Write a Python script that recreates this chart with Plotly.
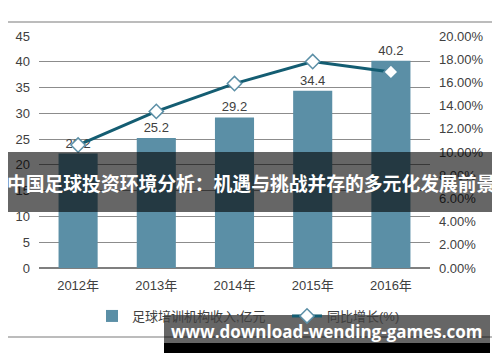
import plotly.graph_objects as go

years = ["2012年", "2013年", "2014年", "2015年", "2016年"]
income = [22.2, 25.2, 29.2, 34.4, 40.2]
growth = [0.106, 0.135, 0.159, 0.178, 0.169]
left_ticks = [0, 5, 10, 15, 20, 25, 30, 35, 40, 45]
right_ticks = [0, 0.02, 0.04, 0.06, 0.08, 0.10, 0.12, 0.14, 0.16, 0.18, 0.20]

OFF = 8  # page body margin
W, H = 500 - OFF, 362 - OFF
L, R, T, B = 39 - OFF, 430 - OFF, 36 - OFF, 268 - OFF


def px(x):
    return (x - OFF - L) / (R - L)


def py(y):
    return (B - (y - OFF)) / (B - T)


font_main = "Liberation Sans, Arial, Noto Sans CJK SC, sans-serif"
fig = go.Figure()
fig.add_trace(go.Bar(
    x=years, y=income, name="足球培训机构收入;亿元",
    marker=dict(color="#5b8fa6", line=dict(width=0)),
    width=0.5,
    text=[f"{v:.1f}" for v in income], textposition="outside",
    textfont=dict(size=13, color="#404040", family=font_main),
    cliponaxis=False,
))
fig.add_trace(go.Scatter(
    x=years, y=growth, name="同比增长(%)", yaxis="y2", mode="lines+markers",
    line=dict(color="#145d72", width=3),
    marker=dict(symbol="diamond", size=11, color="white",
                line=dict(color="#5b8fa6", width=1.5)),
    cliponaxis=False,
))

shapes = [
    dict(type="rect", xref="paper", yref="paper",
         x0=px(6), x1=px(493), y0=py(22), y1=py(337),
         line=dict(color="#a6a6a6", width=1.5), fillcolor="rgba(0,0,0,0)", layer="below"),
    dict(type="rect", xref="paper", yref="paper",
         x0=px(3), x1=px(497), y0=py(152), y1=py(212),
         line=dict(width=0), fillcolor="rgba(0,0,0,0.6)", layer="above"),
    dict(type="rect", xref="paper", yref="paper",
         x0=px(164), x1=px(490), y0=py(315), y1=py(343),
         line=dict(width=0), fillcolor="rgba(0,0,0,0.6)", layer="above"),
    dict(type="rect", xref="paper", yref="paper",
         x0=px(164), x1=px(490), y0=py(343), y1=py(353),
         line=dict(width=0), fillcolor="#000000", layer="above"),
]

annotations = [
    dict(text="中国足球投资环境分析：机遇与挑战并存的多元化发展前景",
         xref="paper", yref="paper", x=px(251), y=py(182),
         showarrow=False, xanchor="center", yanchor="middle",
         font=dict(size=18.8, color="white", family="Noto Sans CJK SC, sans-serif", weight="bold")),
    dict(text="www.download-wending-games.com",
         xref="paper", yref="paper", x=px(327), y=py(331),
         showarrow=False, xanchor="center", yanchor="middle",
         font=dict(size=17, color="white", family="Open Sans, DejaVu Sans, sans-serif", weight="bold")),
]

fig.update_layout(
    width=W, height=H,
    margin=dict(l=L, r=W - R, t=T, b=H - B, pad=0, autoexpand=False),
    paper_bgcolor="white", plot_bgcolor="white",
    font=dict(family=font_main, size=13, color="#404040"),
    bargap=0.5,
    showlegend=True,
    legend=dict(orientation="h", x=px(92), y=py(316), xanchor="left", yanchor="middle",
                font=dict(size=13, color="#404040"), bgcolor="rgba(0,0,0,0)",
                itemwidth=30, tracegroupgap=0, entrywidth=150),
    xaxis=dict(showgrid=False, showline=False, ticks="", tickfont=dict(size=13),
               ticklabelstandoff=8, automargin=False),
    yaxis=dict(range=[0, 45], tickvals=left_ticks, showgrid=True, gridcolor="#8c8c8c",
               gridwidth=1, zeroline=True, zerolinecolor="#7f7f7f", zerolinewidth=1.5,
               showline=False, ticks="", tickfont=dict(size=13), ticklabelstandoff=8,
               automargin=False),
    yaxis2=dict(range=[0, 0.20], tickvals=right_ticks, tickformat=".2%", overlaying="y",
                side="right", showgrid=False, zeroline=False, showline=False, ticks="",
                tickfont=dict(size=13), ticklabelstandoff=8, automargin=False),
    shapes=shapes, annotations=annotations,
)

fig.write_html("out.html")
